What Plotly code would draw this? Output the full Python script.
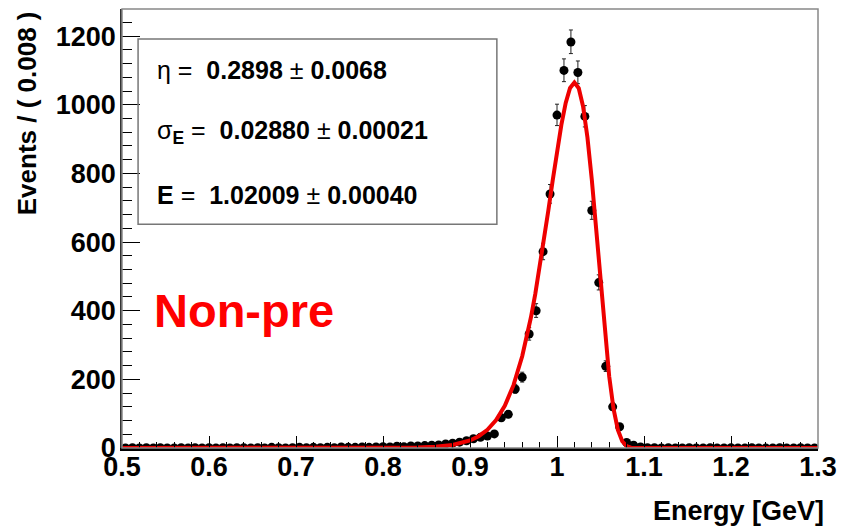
import math
import plotly.graph_objects as go

# ---- data ----
bin_width = 0.008
bin_centers = [round(0.504 + bin_width * i, 3) for i in range(100)]
counts = [0, 1, 0, 1, 0, 1, 0, 0, 1, 0,
          1, 0, 1, 0, 1, 0, 1, 1, 0, 1,
          0, 2, 1, 0, 1, 2, 1, 2, 1, 2,
          1, 3, 2, 2, 3, 2, 3, 4, 3, 5,
          4, 6, 6, 7, 8, 9, 12, 14, 17, 21,
          27, 31, 35, 41, 88, 98, 172, 206, 332, 400,
          572, 740, 970, 1100, 1183, 1094, 966, 692, 482, 238,
          120, 62, 16, 8, 3, 1, 1, 0, 1, 0,
          0, 1, 0, 0, 1, 0, 0, 1, 0, 0,
          1, 0, 0, 0, 1, 0, 0, 1, 0, 0]

fit_x = [0.50, 0.60, 0.70, 0.75, 0.80, 0.82, 0.84, 0.86, 0.88, 0.90,
         0.91, 0.92, 0.93, 0.94, 0.95, 0.96, 0.965, 0.97, 0.975, 0.98,
         0.985, 0.99, 0.995, 1.00, 1.005, 1.01, 1.015, 1.02, 1.025, 1.03,
         1.035, 1.04, 1.045, 1.05, 1.055, 1.06, 1.065, 1.07, 1.075, 1.08,
         1.085, 1.09, 1.10, 1.20, 1.30]
fit_y = [0, 0, 0, 0, 0.2, 0.6, 1.4, 3.6, 8.9, 22.0,
         34.3, 53.0, 81.2, 122.8, 183.1, 267.3, 319.9, 380.2, 448.3, 523.5,
         605.1, 691.1, 778.5, 863.6, 941.3, 1005.2, 1048.7, 1065.0, 1048.2, 994.8,
         904.5, 781.9, 636.6, 482.1, 334.6, 208.6, 113.9, 52.6, 19.6, 5.5,
         1.0, 0.1, 0, 0, 0]

par_lines = ["η = ", "σ<sub><b>E</b></sub> = ", "<b>E</b> = "]
par_values = ["0.2898", "0.02880", "1.02009"]
par_errors = ["0.0068", "0.00021", "0.00040"]

x_title = "Energy [GeV]"
y_title = "Events / ( 0.008 )"
label = "Non-pre"

# Poisson-like asymmetric errors
err_up = [0.5 + math.sqrt(n + 0.25) for n in counts]
err_dn = [-0.5 + math.sqrt(n + 0.25) for n in counts]

FONT = "Liberation Sans, Arial, Helvetica, sans-serif"

fig = go.Figure()
fig.add_trace(go.Scatter(
    x=bin_centers, y=counts, mode="markers",
    marker=dict(color="black", size=9, symbol="circle"),
    error_y=dict(type="data", symmetric=False, array=err_up, arrayminus=err_dn,
                 color="#222222", thickness=1, width=2),
    error_x=dict(type="constant", value=bin_width / 2, color="#222222",
                 thickness=1, width=0),
    showlegend=False))
fig.add_trace(go.Scatter(
    x=fit_x, y=fit_y, mode="lines",
    line=dict(color="#ee0000", width=4),
    hoverinfo="skip", showlegend=False))

# stats box
fig.add_shape(type="rect", xref="paper", yref="paper",
              x0=0.0231, x1=0.5386, y0=0.5095, y1=0.9318,
              line=dict(color="#777777", width=1.5), fillcolor="rgba(0,0,0,0)")
ys = [0.860, 0.7208, 0.5763]
for t, v, e, yy in zip(par_lines, par_values, par_errors, ys):
    fig.add_annotation(xref="paper", yref="paper", x=0.0468, y=yy,
                       xanchor="left", yanchor="middle", showarrow=False,
                       text=f"{t} <b>{v}</b> ± <b>{e}</b>",
                       font=dict(family=FONT, size=25, color="black"))

# frame
fig.add_shape(type="rect", xref="paper", yref="paper", x0=0, x1=1, y0=0, y1=1,
              line=dict(color="#888888", width=1.5), layer="above")

fig.add_annotation(xref="paper", yref="paper", x=0.0426, y=0.3139,
                   xanchor="left", yanchor="middle", showarrow=False,
                   text=f"<b>{label}</b>",
                   font=dict(family=FONT, size=47, color="#ff0000"))
fig.add_annotation(xref="paper", yref="paper", x=1.012, y=-0.143,
                   xanchor="right", yanchor="middle", showarrow=False,
                   text=f"<b>{x_title}</b>",
                   font=dict(family=FONT, size=27, color="black"))
fig.add_annotation(xref="paper", yref="paper", x=-0.137, y=0.9986,
                   xanchor="center", yanchor="top", showarrow=False, textangle=-90,
                   text=f"<b>{y_title}</b>",
                   font=dict(family=FONT, size=26, color="black"))

fig.update_layout(
    width=846, height=526,
    margin=dict(l=122, r=19, t=9, b=78),
    paper_bgcolor="white", plot_bgcolor="white",
    font=dict(family=FONT),
    xaxis=dict(range=[0.5, 1.3], dtick=0.1, tick0=0.5, showgrid=False, zeroline=False,
               showline=True, linecolor="black", linewidth=2.5,
               ticks="inside", ticklen=12, tickwidth=1.2, tickcolor="black",
               ticklabelstandoff=-7,
               tickfont=dict(family=FONT, size=27, color="black", weight="bold"),
               minor=dict(ticks="inside", ticklen=6, dtick=0.02, tickcolor="black", tickwidth=1)),
    yaxis=dict(range=[0, 1279], dtick=200, tick0=0, showgrid=False, zeroline=False,
               showline=True, linecolor="#333333", linewidth=1.5,
               ticks="inside", ticklen=18, tickwidth=1.2, tickcolor="black",
               ticklabelstandoff=-1,
               tickfont=dict(family=FONT, size=27, color="black", weight="bold"),
               minor=dict(ticks="inside", ticklen=10, dtick=40, tickcolor="black", tickwidth=1)),
)

fig.write_html("out.html")
